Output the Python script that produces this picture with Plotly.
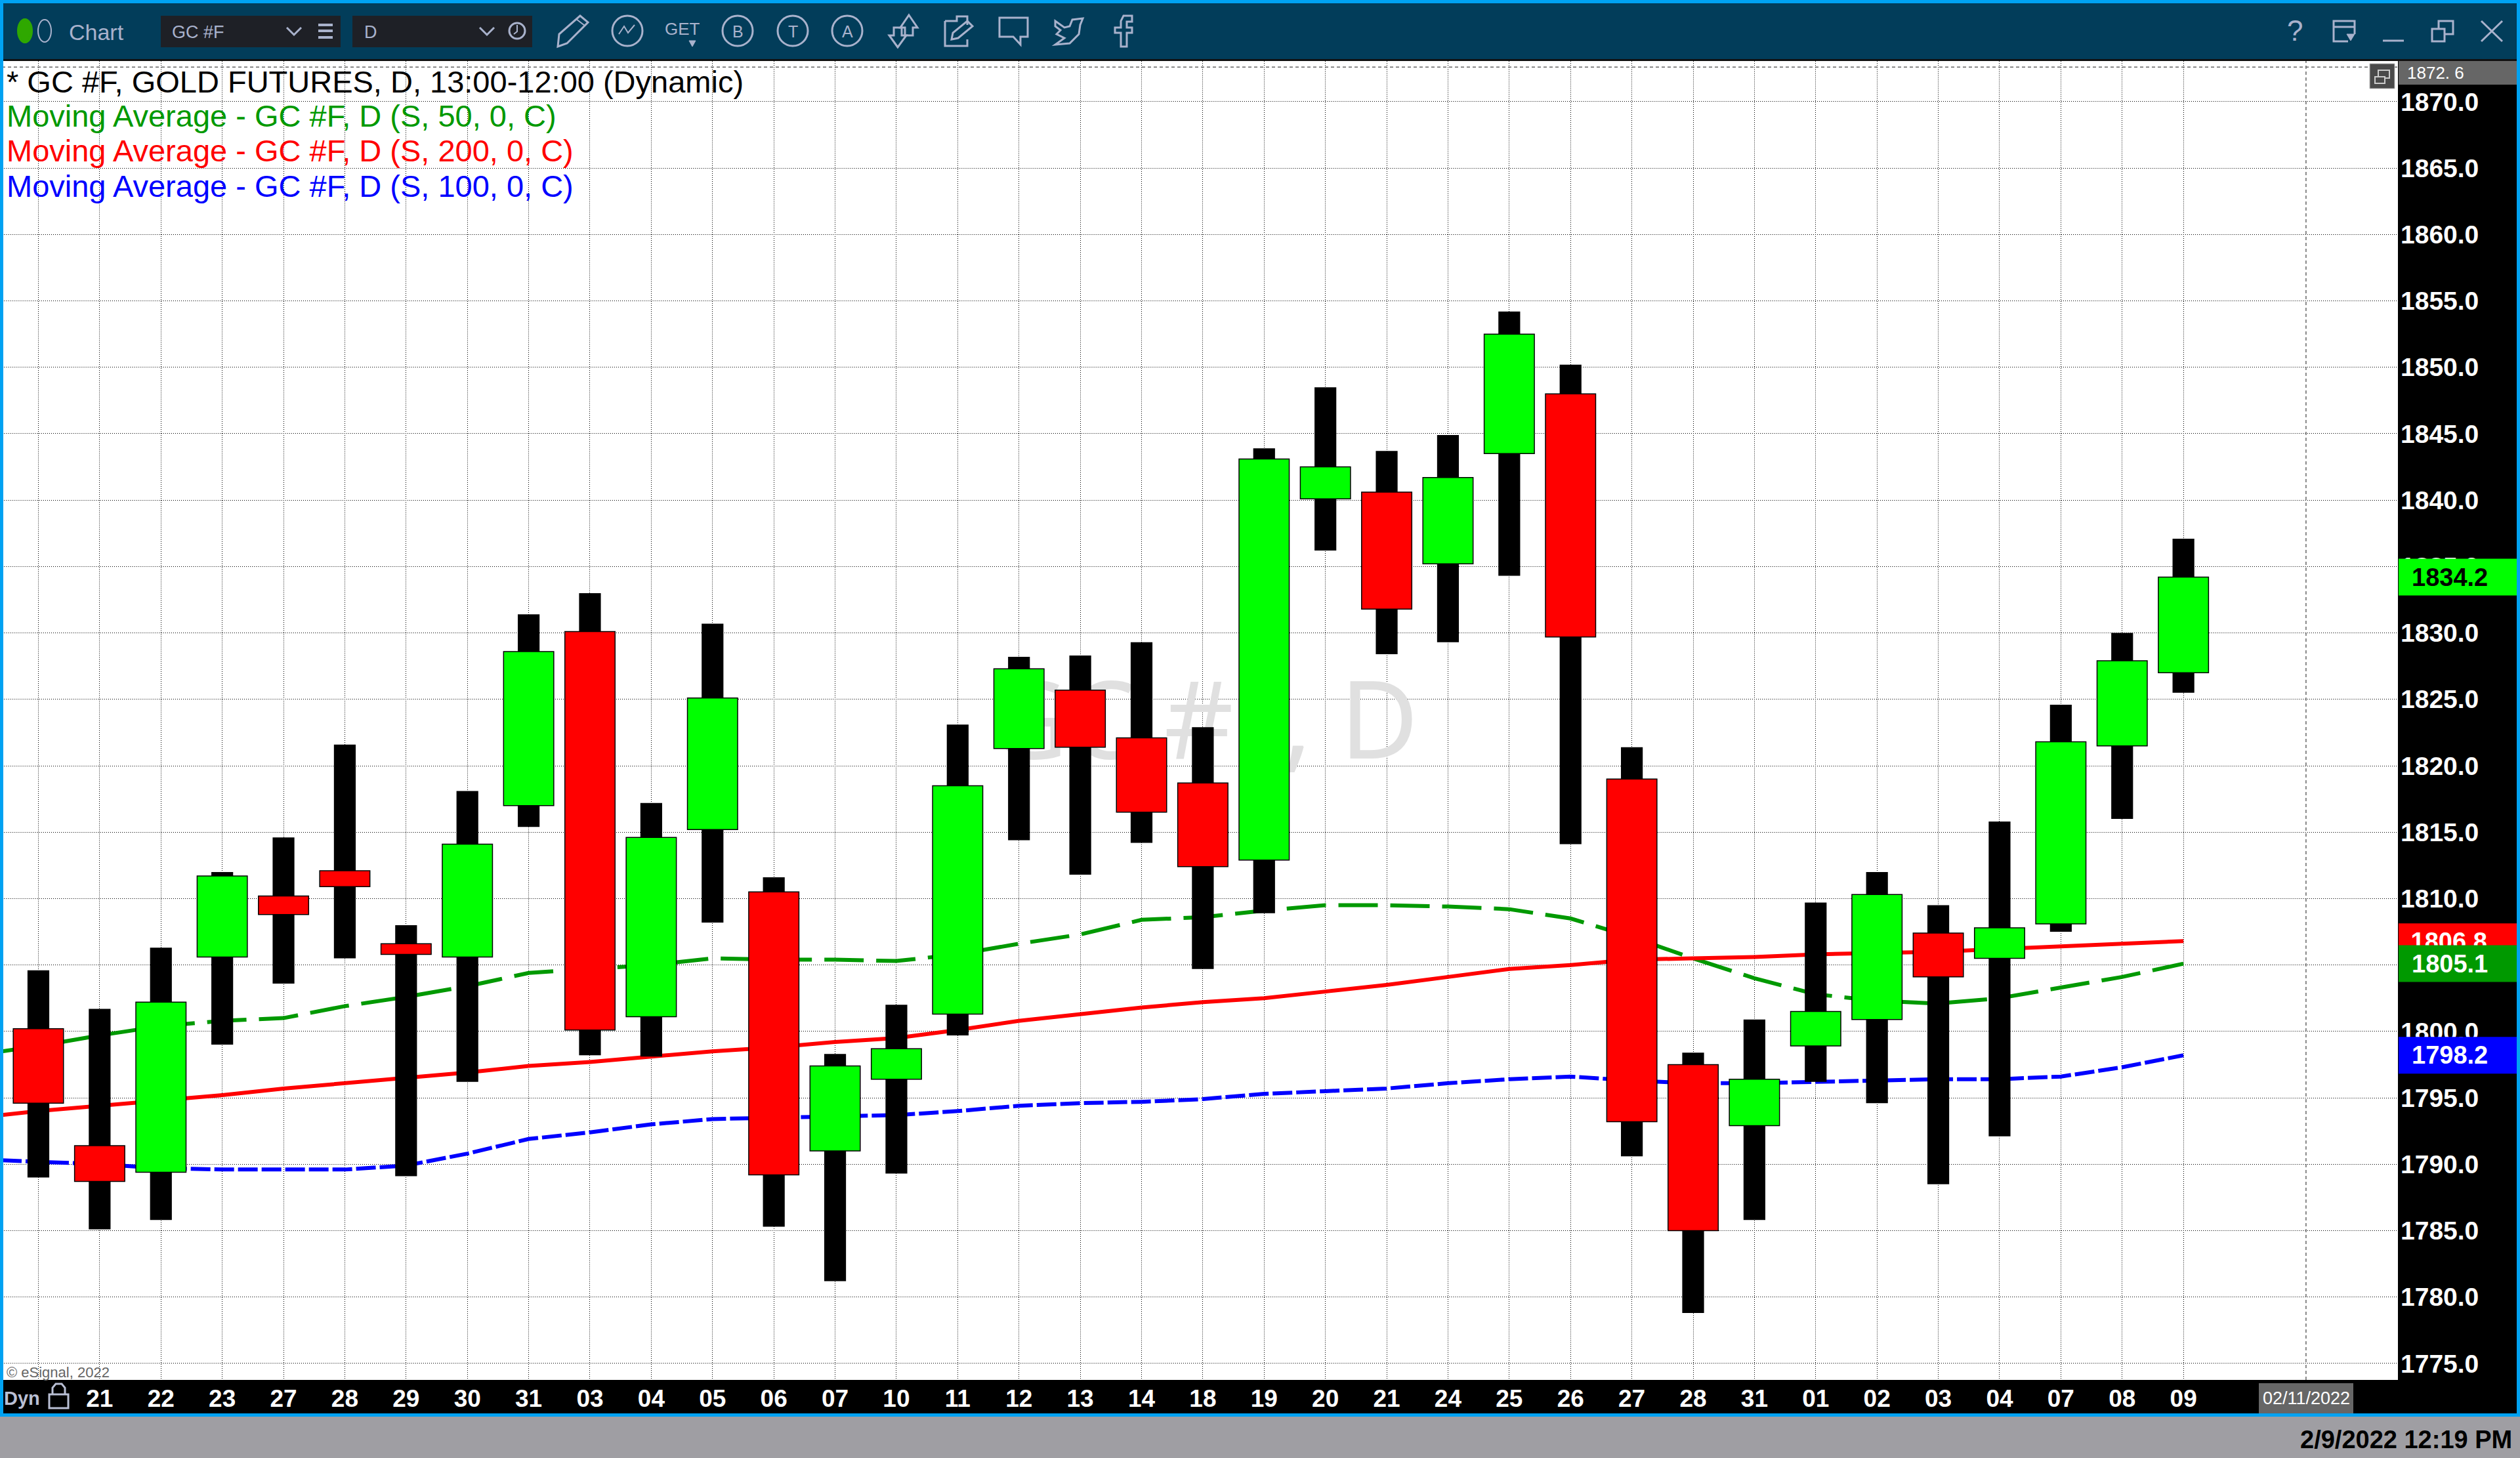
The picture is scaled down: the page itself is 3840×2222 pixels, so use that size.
import plotly.graph_objects as go

W, H = 3840, 2222
L, R, T, B = 3, 3654, 93, 2103  # plot area in page pixels

DATES = ["", "21", "22", "23", "27", "28", "29", "30", "31", "03", "04", "05", "06", "07", "10", "11", "12", "13",
         "14", "18", "19", "20", "21", "24", "25", "26", "27", "28", "31", "01", "02", "03", "04", "07", "08", "09"]
HIGH = [1804.6, 1801.7, 1806.3, 1812.0, 1814.6, 1821.6, 1808.0, 1818.1, 1831.4, 1833.0, 1817.2, 1830.7,
        1811.6, 1798.3, 1802.0, 1823.1, 1828.2, 1828.3, 1829.3, 1822.9, 1843.9, 1848.5, 1843.7, 1844.9,
        1854.2, 1850.2, 1821.4, 1798.4, 1800.9, 1809.7, 1812.0, 1809.5, 1815.8, 1824.6, 1830.0, 1837.1]
LOW = [1789.0, 1785.1, 1785.8, 1799.0, 1803.6, 1805.5, 1789.1, 1796.2, 1815.4, 1798.2, 1798.1, 1808.2,
       1785.3, 1781.2, 1789.3, 1799.7, 1814.4, 1811.8, 1814.2, 1804.7, 1808.9, 1836.2, 1828.4, 1829.3,
       1834.3, 1814.1, 1790.6, 1778.8, 1785.8, 1796.2, 1794.6, 1788.5, 1792.1, 1807.5, 1816.0, 1825.5]
OPEN = [1800.2, 1791.4, 1789.4, 1805.6, 1810.2, 1812.1, 1806.6, 1805.6, 1817.0, 1830.1, 1801.1, 1815.2,
        1810.5, 1791.0, 1796.4, 1801.3, 1821.3, 1825.7, 1822.1, 1818.7, 1812.9, 1840.1, 1840.6, 1835.2,
        1843.5, 1848.0, 1819.0, 1797.5, 1792.9, 1798.9, 1800.9, 1807.4, 1805.5, 1808.1, 1821.5, 1827.0]
CLOSE = [1794.6, 1788.7, 1802.2, 1811.7, 1808.8, 1810.9, 1805.8, 1814.1, 1828.6, 1800.1, 1814.6, 1825.1,
         1789.2, 1797.4, 1798.7, 1818.5, 1827.3, 1821.4, 1816.5, 1812.4, 1843.1, 1842.5, 1831.8, 1841.7,
         1852.5, 1829.7, 1793.2, 1785.0, 1796.4, 1801.5, 1810.3, 1804.1, 1807.8, 1821.8, 1827.9, 1834.2]
MA50 = [1798.9, 1799.7, 1800.4, 1800.8, 1801.0, 1801.9, 1802.6, 1803.4, 1804.4, 1804.7, 1805.0, 1805.5,
        1805.4, 1805.4, 1805.3, 1805.8, 1806.6, 1807.3, 1808.4, 1808.6, 1809.1, 1809.5, 1809.5, 1809.4,
        1809.2, 1808.5, 1807.1, 1805.5, 1804.0, 1802.8, 1802.3, 1802.1, 1802.5, 1803.3, 1804.1, 1805.1]
MA200 = [1794.0, 1794.4, 1794.8, 1795.2, 1795.7, 1796.1, 1796.5, 1796.9, 1797.4, 1797.7, 1798.1, 1798.5,
         1798.8, 1799.2, 1799.5, 1800.1, 1800.8, 1801.3, 1801.8, 1802.2, 1802.5, 1803.0, 1803.5, 1804.1,
         1804.7, 1805.0, 1805.4, 1805.5, 1805.6, 1805.8, 1805.9, 1806.0, 1806.2, 1806.4, 1806.6, 1806.8]
MA100 = [1790.2, 1790.0, 1789.7, 1789.6, 1789.6, 1789.6, 1789.9, 1790.8, 1791.9, 1792.4, 1793.0, 1793.4,
         1793.5, 1793.6, 1793.7, 1794.0, 1794.4, 1794.6, 1794.7, 1794.9, 1795.3, 1795.5, 1795.7, 1796.1,
         1796.4, 1796.6, 1796.3, 1796.1, 1796.1, 1796.2, 1796.3, 1796.4, 1796.4, 1796.6, 1797.3, 1798.2]
MA_START = {"50": 1798.5, "200": 1793.7, "100": 1790.3}  # values at the left edge of the chart
Y_TICKS = [1775 + 5 * i for i in range(20)]
SPAN_LAST = 1872.6
FUTURE_DATE_POS = 37
FUTURE_DATE = "02/11/2022"

X_RANGE = [-0.594, 38.5]
Y_RANGE = [1773.76, 1873.06]

IDX = list(range(len(DATES)))
BG_LABEL = "#A9B2CC"


def fx(px):
    return (px - L) / (R - L)


def fy(py):
    return (B - py) / (B - T)


def py_of(v):
    return 155 + (1870 - v) * 20.24


shapes, annots = [], []


def rect(x0, y0, x1, y1, color, layer="above", line=None):
    shapes.append(dict(type="rect", xref="paper", yref="paper", x0=fx(x0), x1=fx(x1), y0=fy(y1), y1=fy(y0),
                       fillcolor=color, layer=layer,
                       line=dict(width=line[1], color=line[0]) if line else dict(width=0)))


def poly(pts, color=BG_LABEL, width=3, closed=False, fill=None):
    d = "M " + " L ".join(f"{fx(a):.6f},{fy(b):.6f}" for a, b in pts) + (" Z" if closed else "")
    shapes.append(dict(type="path", xref="paper", yref="paper", path=d, layer="above",
                       fillcolor=fill if fill else "rgba(0,0,0,0)", line=dict(color=color, width=width)))


def oval(cx, cy, rx, ry, color=BG_LABEL, width=3, fill=None):
    shapes.append(dict(type="circle", xref="paper", yref="paper", x0=fx(cx - rx), x1=fx(cx + rx), y0=fy(cy + ry),
                       y1=fy(cy - ry), layer="above", fillcolor=fill if fill else "rgba(0,0,0,0)",
                       line=dict(color=color, width=width)))


def text(px, py, s, size, color, anchor="left", bold=False, family="Liberation Sans"):
    annots.append(dict(xref="paper", yref="paper", x=fx(px), y=fy(py), text=s, showarrow=False, xanchor=anchor,
                       yanchor="middle", borderpad=0, borderwidth=0,
                       font=dict(size=size, color=color, family=family, weight=700 if bold else 400)))


# ---- window chrome ----
FRAME = "#00A2F2"
rect(0, 0, W, 5, FRAME)
rect(0, 5, W, 90, "#023D5A")
rect(0, 90, W, 93, "#111111")
rect(0, 0, 5, 2159, FRAME)
rect(3835, 0, W, 2159, FRAME)
rect(0, 2154, W, 2159, FRAME)
rect(0, 2159, W, H, "#9F9EA3")
rect(0, 2103, 3835, 2154, "#000000", layer="below")

oval(38, 47, 9, 17, "#2FA800", 3, "#2FA800")
oval(38, 47, 11, 18, "#2FA800", 2)
oval(68, 47, 10, 17, BG_LABEL, 2)
text(105, 49, "Chart", 34, BG_LABEL)
rect(245, 24, 519, 72, "#1E2026")
rect(537, 24, 811, 72, "#1E2026")
text(262, 49, "GC #F", 27, BG_LABEL)
text(555, 49, "D", 27, BG_LABEL)
poly([(437, 42), (448, 53), (459, 42)], width=3)
poly([(731, 42), (742, 53), (753, 42)], width=3)
for yy in (38, 47, 57):
    poly([(485, yy), (507, yy)], width=4)
oval(788, 47, 12, 12, width=3)
poly([(788, 38), (788, 48), (783, 52)], width=2)

# drawing tools
poly([(850, 71), (852, 52), (884, 24), (896, 34), (864, 66)], closed=True)
poly([(878, 29), (891, 39)], width=2)
oval(956, 47, 23, 23)
poly([(943, 52), (951, 40), (957, 50), (967, 38)], width=2)
text(1040, 44, "GET", 26, BG_LABEL, anchor="center")
poly([(1050, 62), (1060, 62), (1055, 71)], closed=True, fill=BG_LABEL, width=1)
for cx, s in ((1124, "B"), (1208, "T"), (1291, "A")):
    oval(cx, 47, 23, 23)
    text(cx, 48, s, 25, BG_LABEL, anchor="center")
poly([(1385, 23), (1398, 42), (1391, 42), (1391, 54), (1379, 54), (1379, 42), (1372, 42)], closed=True)
poly([(1368, 72), (1355, 54), (1362, 54), (1362, 42), (1374, 42), (1374, 54), (1381, 54)], closed=True)
poly([(1440, 32), (1458, 32), (1458, 25), (1474, 25), (1474, 38)], width=3)
poly([(1440, 32), (1440, 70), (1474, 70), (1474, 60)], width=3)
poly([(1450, 60), (1452, 50), (1474, 32), (1482, 40), (1460, 58)], closed=True, width=3)
poly([(1523, 27), (1566, 27), (1566, 56), (1555, 56), (1555, 68), (1544, 56), (1523, 56)], closed=True)
poly([(1608, 32), (1622, 42), (1630, 40), (1634, 30), (1650, 28), (1646, 38), (1644, 52), (1630, 66), (1608, 68),
      (1622, 58), (1610, 52), (1616, 46), (1608, 40)], closed=True)
poly([(1725, 24), (1712, 24), (1708, 32), (1708, 42), (1699, 42), (1699, 50), (1708, 50), (1708, 71), (1717, 71),
      (1717, 50), (1725, 50), (1725, 42), (1717, 42), (1717, 33), (1725, 33)], closed=True)

# window buttons
text(3497, 47, "?", 44, BG_LABEL, anchor="center")
poly([(3588, 52), (3588, 32), (3556, 32), (3556, 63), (3578, 63)])
poly([(3556, 41), (3588, 41)])
poly([(3576, 52), (3588, 52), (3582, 62)], closed=True, fill=BG_LABEL, width=1)
poly([(3631, 62), (3663, 62)])
rect(3706, 44, 3725, 63, "rgba(0,0,0,0)", line=(BG_LABEL, 3))
poly([(3716, 44), (3716, 32), (3738, 32), (3738, 52), (3725, 52)])
poly([(3781, 32), (3813, 63)])
poly([(3813, 32), (3781, 63)])

# upper-right corner of the chart
rect(3611, 97, 3649, 135, "#4A4A4A", line=("#BBBBBB", 1))
rect(3619, 117, 3634, 127, "rgba(0,0,0,0)", line=("#CCCCCC", 2))
poly([(3624, 117), (3624, 107), (3641, 107), (3641, 119), (3634, 119)], color="#CCCCCC", width=2)
rect(3655, 93, 3835, 129, "#666666")
text(3668, 111, "1872. 6", 26, "#FFFFFF")

# legend text
text(10, 124, "* GC #F, GOLD FUTURES, D, 13:00-12:00 (Dynamic)", 47, "#000000")
text(10, 177, "Moving Average - GC #F, D (S, 50, 0, C)", 47, "#009900")
text(10, 230, "Moving Average - GC #F, D (S, 200, 0, C)", 47, "#FF0000")
text(10, 283, "Moving Average - GC #F, D (S, 100, 0, C)", 47, "#0000FF")

# footer texts
text(10, 2091, "© eSignal, 2022", 22, "#666666")
text(6, 2131, "Dyn", 29, "#B9BFD4", bold=True)
rect(75, 2125, 104, 2146, "rgba(0,0,0,0)", line=("#B9BFD4", 3))
poly([(80, 2125), (80, 2115), (85, 2109), (94, 2109), (99, 2115), (99, 2125)], color="#B9BFD4", width=3)
rect(3442, 2108, 3586, 2154, "#666666")
text(3514, 2131, FUTURE_DATE, 27, "#FFFFFF", anchor="center")
text(3828, 2194, "2/9/2022 12:19 PM", 38, "#000000", anchor="right", bold=True)

# last-value flags on the price scale
FLAG_H = 56
rect(3655, py_of(MA200[-1]) - 27, 3835, py_of(MA200[-1]) + 29, "#FF0000", layer="below")
for val, col, fg in ((CLOSE[-1], "#00FF00", "#000000"), (MA50[-1], "#009900", "#FFFFFF"),
                     (MA100[-1], "#0000FF", "#FFFFFF")):
    yc = py_of(val)
    rect(3655, yc - FLAG_H / 2, 3835, yc + FLAG_H / 2, col)
    text(3675, yc, f"{val:.1f}", 38, fg, bold=True)

fig = go.Figure()
fig.add_trace(go.Scatter(x=[19.02], y=[1822.55], mode="text", text=["GC #F, D"], textposition="middle center",
                         textfont=dict(size=164, color="#E0E0E0", family="Noto Sans"), hoverinfo="skip"))
LINE_X = [X_RANGE[0]] + IDX
fig.add_trace(go.Scatter(x=LINE_X, y=[MA_START["50"]] + MA50, mode="lines",
                         line=dict(color="#009900", width=6, dash="60px,19px")))
fig.add_trace(go.Scatter(x=LINE_X, y=[MA_START["200"]] + MA200, mode="lines",
                         line=dict(color="#FF0000", width=6)))
fig.add_trace(go.Scatter(x=LINE_X, y=[MA_START["100"]] + MA100, mode="lines",
                         line=dict(color="#0000FF", width=6, dash="30px,6px")))

fig.add_trace(go.Bar(x=IDX, y=[h - l for h, l in zip(HIGH, LOW)], base=LOW, width=33.2 / 93.4,
                     marker=dict(color="#000000", line=dict(width=0)), xaxis="x2", yaxis="y2"))
fig.add_trace(go.Bar(x=IDX, y=[abs(c - o) for o, c in zip(OPEN, CLOSE)], base=[min(o, c) for o, c in zip(OPEN, CLOSE)],
                     width=76.5 / 93.4,
                     marker=dict(color=["#00FF00" if c > o else "#FF0000" for o, c in zip(OPEN, CLOSE)],
                                 line=dict(width=1.5, color="#000000")), xaxis="x2", yaxis="y2"))

# dashed crosshair guides
DASH = dict(color="#666666", width=1.5, dash="5px,4px")
shapes.append(dict(type="line", xref="x", yref="paper", x0=FUTURE_DATE_POS, x1=FUTURE_DATE_POS, y0=0, y1=1, line=DASH,
                   layer="below"))
shapes.append(dict(type="line", xref="paper", yref="y", x0=0, x1=1, y0=SPAN_LAST, y1=SPAN_LAST, line=DASH,
                   layer="below"))

GRID = dict(showgrid=True, gridcolor="#000000", gridwidth=1, griddash="1px,2px", zeroline=False, showline=False)
fig.update_layout(
    width=W, height=H, margin=dict(l=L, r=W - R, t=T, b=H - B, pad=0), autosize=False,
    paper_bgcolor="#000000", plot_bgcolor="#FFFFFF", showlegend=False, hovermode=False, barmode="overlay",
    shapes=shapes, annotations=annots,
    xaxis=dict(range=X_RANGE, tickmode="array", tickvals=IDX, ticktext=DATES, ticks="", ticklabelstandoff=3,
               tickfont=dict(family="Liberation Sans", size=37, color="#FFFFFF", weight=700),
               tickangle=0, **GRID),
    yaxis=dict(range=Y_RANGE, tickmode="array", tickvals=Y_TICKS, ticktext=[f"{v:.1f}" for v in Y_TICKS], side="right",
               ticks="", ticklabelstandoff=3,
               tickfont=dict(family="Liberation Sans", size=39, color="#FFFFFF", weight=700), **GRID),
    xaxis2=dict(range=X_RANGE, overlaying="x", visible=False),
    yaxis2=dict(range=Y_RANGE, overlaying="y", side="right", anchor="x2", tickmode="array", tickvals=[MA200[-1]],
                ticktext=[f"{MA200[-1]:.1f}"], ticks="outside", ticklen=11, tickcolor="rgba(0,0,0,0)",
                tickfont=dict(family="Liberation Sans", size=38, color="#FFFFFF", weight=700), showgrid=False,
                zeroline=False, showline=False),
)
fig.write_html("out.html", config={"displayModeBar": False},
               post_script="document.body.style.margin='0';document.body.style.overflow='hidden';")
